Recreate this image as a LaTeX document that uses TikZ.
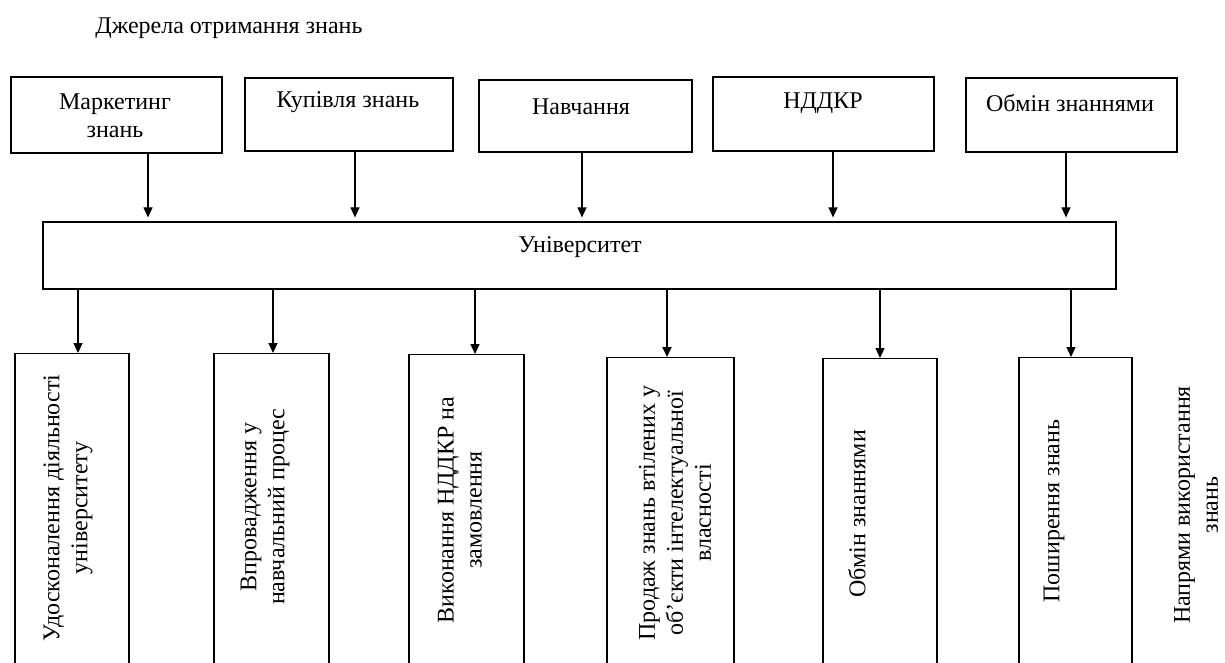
\documentclass[tikz,border=0pt]{standalone}
\usepackage{fontspec}
\setmainfont{Liberation Serif}
\usetikzlibrary{arrows.meta}

\begin{document}
\begin{tikzpicture}[x=0.5pt,y=-0.5pt,
  txt/.style={font=\fontsize{12}{14}\selectfont, align=center, inner sep=0pt},
  srcbox/.style={draw, line width=0.6pt, inner sep=0pt},
  dirbox/.style={draw, line width=0.6pt, inner sep=0pt, anchor=north, minimum height=170pt},
  arr/.style={-{Triangle[length=5pt,width=4.5pt]}, line width=0.6pt}]
  \useasboundingbox (0,0) rectangle (1225,663);
  \clip (0,0) rectangle (1225,663);

  \node[txt, anchor=west] (title) at (95,28) {Джерела отримання знань};

  % sources
  \foreach \n/\cx/\cy/\w/\h in {1/116.5/115/105.5/38, 2/349/114.5/104/36.5,
      3/585.5/116/106.5/36, 4/823.5/114/110.5/37, 5/1071.5/115/105.5/37}
    \node[srcbox, minimum width=\w pt, minimum height=\h pt] (src\n) at (\cx,\cy) {};
  \foreach \n/\tx/\ty/\txt in {1/115/116/{Маркетинг\\знань}, 2/348/102/{Купівля знань},
      3/581/107/{Навчання}, 4/823/103/{НДДКР}, 5/1070/103/{Обмін знаннями}}
    \node[txt] (srct\n) at (\tx,\ty) {\txt};

  \node[srcbox, minimum width=536.5pt, minimum height=33.5pt] (univ) at (579.5,255.5) {};
  \node[txt] (univt) at (580,247) {Університет};

  \foreach \n/\ax in {1/148,2/355,3/582,4/833,5/1066}
    \draw[arr, shorten >=2pt] (src\n.south -| \ax,0) -- (\ax,0 |- univ.north);

  % directions
  \foreach \n/\cx/\w/\t in {1/72/57/353, 2/271.5/57.5/353, 3/466.5/57.5/354,
      4/670.5/63.5/357, 5/880/57/358, 6/1075.5/56.5/357}
    \node[dirbox, minimum width=\w pt] (dir\n) at (\cx,\t) {};
  \foreach \n/\tx/\ty/\txt in {1/68/508/{Удосконалення діяльності\\університету},
      2/265/507/{Впровадження у\\навчальний процес},
      3/460/510/{Виконання НДДКР на\\замовлення},
      4/675/513/{Продаж знань втілених у\\об’єкти інтелектуальної\\власності},
      5/857/514/{Обмін знаннями}, 6/1054/511/{Поширення знань}}
    \node[txt, rotate=90] (dirt\n) at (\tx,\ty) {\txt};

  \foreach \n/\ax/\lw in {1/78/0.6,2/273/0.6,3/475/0.6,4/667/1,5/880/0.6,6/1071/0.6}
    \draw[arr, line width=\lw pt] (\ax,0 |- univ.south) -- (dir\n.north -| \ax,0);

  \node[txt, rotate=90] (dirs) at (1196,505) {Напрями використання\\знань};
\end{tikzpicture}
\end{document}
